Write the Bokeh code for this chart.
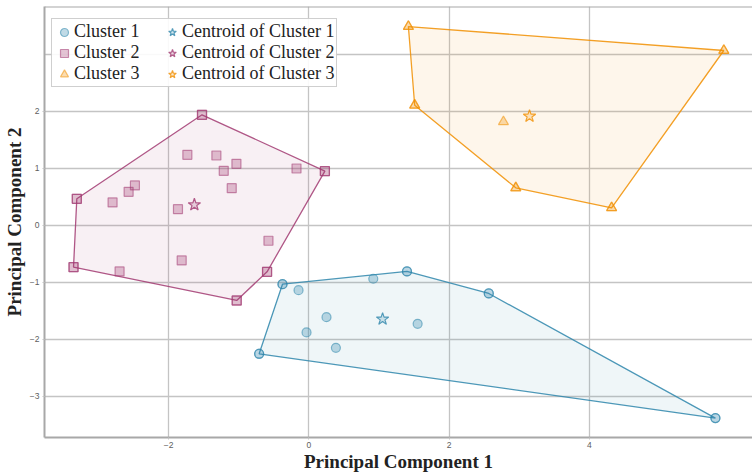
import numpy as np
from bokeh.plotting import figure
from bokeh.models import Legend, LegendItem, FixedTicker, Span
from bokeh.embed import file_html
from bokeh.resources import INLINE

# ---- data ----
c1_x = [-0.376, -0.147, 0.919, 1.400, 2.567, 0.252, -0.033, 0.386, 1.552, -0.709, 5.800]
c1_y = [-1.030, -1.135, -0.935, -0.807, -1.193, -1.608, -1.877, -2.146, -1.725, -2.251, -3.380]

c2_x = [-1.524, -1.733, -1.319, -1.033, -1.214, -0.176, 0.229, -2.481, -2.571, -1.100,
        -3.310, -2.800, -1.867, -0.576, -1.814, -3.357, -2.700, -0.596, -1.029]
c2_y = [1.942, 1.240, 1.228, 1.082, 0.959, 1.000, 0.953, 0.702, 0.591, 0.655,
        0.468, 0.404, 0.286, -0.268, -0.614, -0.731, -0.807, -0.813, -1.316]

c3_x = [1.420, 5.920, 1.510, 2.776, 2.952, 4.319]
c3_y = [3.490, 3.070, 2.110, 1.820, 0.660, 0.310]

cent_x = [1.052, -1.633, 3.148]
cent_y = [-1.643, 0.363, 1.918]

cluster_names = ["Cluster 1", "Cluster 2", "Cluster 3"]
centroid_names = ["Centroid of Cluster 1", "Centroid of Cluster 2", "Centroid of Cluster 3"]
colors = ["#2E86AB", "#A23B72", "#F18F01"]
markers = ["circle", "square", "triangle"]
marker_sizes = [9, 9, 10]

x_ticks = [-2, 0, 2, 4]
y_ticks = [-3, -2, -1, 0, 1, 2]
y_grid = [-3, -2, -1, 0, 1, 2, 3]

X_START, X_END = -3.771, 6.329
Y_START, Y_END = -3.72, 3.842


def convex_hull(xs, ys):
    pts = sorted(set(zip(xs, ys)))

    def cross(o, a, b):
        return (a[0] - o[0]) * (b[1] - o[1]) - (a[1] - o[1]) * (b[0] - o[0])

    lower = []
    for q in pts:
        while len(lower) >= 2 and cross(lower[-2], lower[-1], q) <= 0:
            lower.pop()
        lower.append(q)
    upper = []
    for q in reversed(pts):
        while len(upper) >= 2 and cross(upper[-2], upper[-1], q) <= 0:
            upper.pop()
        upper.append(q)
    h = lower[:-1] + upper[:-1]
    return [q[0] for q in h], [q[1] for q in h]


p = figure(width=752, height=475, x_range=(X_START, X_END), y_range=(Y_START, Y_END),
           output_backend="svg", toolbar_location=None,
           min_border_left=35, min_border_top=6, min_border_right=0, min_border_bottom=38)
p.outline_line_color = None
p.background_fill_color = "white"

# grid
p.xgrid.ticker = FixedTicker(ticks=x_ticks)
p.ygrid.ticker = FixedTicker(ticks=y_grid)
for g in (p.xgrid, p.ygrid):
    g.grid_line_color = "#c4c4c4"
    g.grid_line_width = 1.3

# axes
p.xaxis.ticker = FixedTicker(ticks=x_ticks)
p.yaxis.ticker = FixedTicker(ticks=y_ticks)
p.xaxis.major_label_overrides = {0: "0"}
for ax in (p.xaxis, p.yaxis):
    ax.axis_line_color = "#a8a8a8"
    ax.axis_line_width = 2
    ax.major_tick_out = 2
    ax.major_tick_in = 0
    ax.major_tick_line_color = "#c4c4c4"
    ax.minor_tick_line_color = None
    ax.major_label_text_font = "Liberation Sans"
    ax.major_label_text_font_size = "8.5px"
    ax.major_label_text_color = "#606060"
    ax.major_label_standoff = 3
    ax.axis_label_text_font = "Liberation Serif"
    ax.axis_label_text_font_style = "bold"
    ax.axis_label_text_font_size = "19px"
    ax.axis_label_text_color = "#222222"
    ax.axis_label_standoff = 2
p.xaxis.major_label_standoff = 2
p.xaxis.axis_label_standoff = 0
p.xaxis.axis_label = "Principal Component 1"
p.yaxis.axis_label = "Principal Component 2"

p.add_layout(Span(location=Y_END, dimension="width", line_color="#a8a8a8", line_width=2))

data = [(c1_x, c1_y), (c2_x, c2_y), (c3_x, c3_y)]
cluster_renderers = []
centroid_renderers = []
for i, (xs, ys) in enumerate(data):
    col = colors[i]
    hx, hy = convex_hull(xs, ys)
    p.patch(hx, hy, fill_color=col, fill_alpha=0.08, line_color=col,
            line_alpha=0.85, line_width=1.3)
    r = p.scatter(xs, ys, marker=markers[i], size=marker_sizes[i],
                  fill_color=col, fill_alpha=0.3, line_color=col,
                  line_alpha=0.55, line_width=1.2)
    p.scatter(hx, hy, marker=markers[i], size=marker_sizes[i],
              fill_color=col, fill_alpha=0.04, line_color=col,
              line_alpha=0.6, line_width=1.3)
    s = p.scatter([cent_x[i]], [cent_y[i]], marker="star", size=13,
                  fill_color=col, fill_alpha=0.2, line_color=col,
                  line_alpha=0.8, line_width=1.2)
    cluster_renderers.append(r)
    centroid_renderers.append(s)

items = [LegendItem(label=cluster_names[i], renderers=[cluster_renderers[i]]) for i in range(3)]
items += [LegendItem(label=centroid_names[i], renderers=[centroid_renderers[i]]) for i in range(3)]

legend = Legend(items=items, location=(7, 350), ncols=2,
                label_text_font="Liberation Serif", label_text_font_size="18px",
                label_text_color="#222222", label_height=18, label_width=88,
                glyph_height=20, glyph_width=20,
                label_standoff=0, spacing=0, padding=2, margin=0,
                border_line_color="#a0a0a0", border_line_width=1,
                background_fill_color="white", background_fill_alpha=0.9)
p.add_layout(legend)

open("out.html", "w").write(file_html(p, INLINE))
